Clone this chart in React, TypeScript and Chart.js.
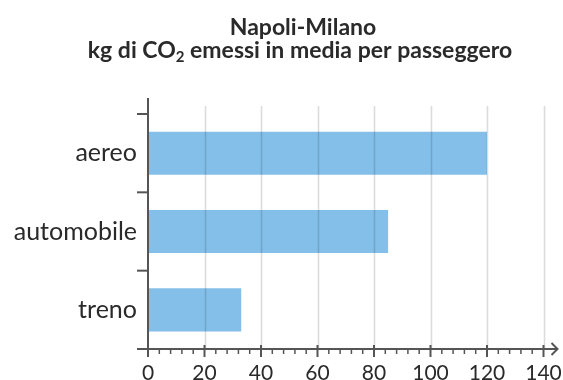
import React, { useEffect, useRef } from "react";
import { Chart, registerables } from "chart.js";

Chart.register(...registerables);

// ---- data ----
const titleLine1 = "Napoli-Milano";
const titleLine2Parts = ["kg di CO", "2", " emessi in media per passeggero"];
const categories = ["aereo", "automobile", "treno"];
const values = [120, 85, 33];
const xMin = 0;
const xMax = 140;
const xMajorStep = 20;
const xMinorStep = 4;

// ---- style ----
const FONT = "Lato, 'Open Sans', sans-serif";
const TEXT = "#2a2a2a";
const AXIS = "#555555";
const BAR = "#84bfea";

const decorPlugin = {
  id: "decor",
  afterDatasetsDraw(chart: any) {
    const { ctx, chartArea } = chart;
    const xs = chart.scales.x;
    const ys = chart.scales.y;
    const { left, right, top, bottom } = chartArea;
    ctx.save();
    // gridlines
    ctx.strokeStyle = "rgba(0,0,0,0.14)";
    ctx.lineWidth = 1.6;
    for (let v = xMin + xMajorStep; v <= xMax; v += xMajorStep) {
      const x = Math.round(xs.getPixelForValue(v)) + 0.5;
      ctx.beginPath();
      ctx.moveTo(x, top - 8);
      ctx.lineTo(x, bottom);
      ctx.stroke();
    }
    ctx.strokeStyle = AXIS;
    ctx.lineWidth = 2;
    // y axis
    ctx.beginPath();
    ctx.moveTo(left, top - 16);
    ctx.lineTo(left, bottom);
    ctx.stroke();
    // y category boundary ticks
    const n = categories.length;
    const band = (bottom - top) / n;
    for (let i = 0; i < n; i++) {
      const y = ys.getPixelForValue(i) - band / 2;
      ctx.beginPath();
      ctx.moveTo(left - 11, y);
      ctx.lineTo(left, y);
      ctx.stroke();
    }
    // x axis
    const tipX = right + 14;
    ctx.beginPath();
    ctx.moveTo(left - 11, bottom);
    ctx.lineTo(tipX, bottom);
    ctx.stroke();
    ctx.beginPath();
    ctx.moveTo(tipX - 6, bottom - 6);
    ctx.lineTo(tipX, bottom);
    ctx.lineTo(tipX - 6, bottom + 6);
    ctx.stroke();
    // major ticks
    for (let v = xMin; v <= xMax; v += xMajorStep) {
      const x = xs.getPixelForValue(v);
      ctx.beginPath();
      ctx.moveTo(x, bottom - 4);
      ctx.lineTo(x, bottom + 8);
      ctx.stroke();
    }
    // minor ticks
    ctx.lineWidth = 1.5;
    for (let v = xMin; v <= xMax; v += xMinorStep) {
      if (v % xMajorStep === 0) continue;
      const x = xs.getPixelForValue(v);
      ctx.beginPath();
      ctx.moveTo(x, bottom);
      ctx.lineTo(x, bottom + 5);
      ctx.stroke();
    }
    ctx.restore();
  },
  afterDraw(chart: any) {
    const { ctx } = chart;
    ctx.save();
    ctx.fillStyle = TEXT;
    ctx.textBaseline = "alphabetic";
    ctx.textAlign = "left";
    const big = `bold 23px ${FONT}`;
    const small = `bold 15px ${FONT}`;
    ctx.font = big;
    const w1 = ctx.measureText(titleLine1).width;
    ctx.fillText(titleLine1, 303 - w1 / 2, 35);
    const a = ctx.measureText(titleLine2Parts[0]).width;
    const c = ctx.measureText(titleLine2Parts[2]).width;
    ctx.font = small;
    const b = ctx.measureText(titleLine2Parts[1]).width;
    const total = a + b + c;
    let x = 300 - total / 2;
    ctx.font = big;
    ctx.fillText(titleLine2Parts[0], x, 58);
    x += a;
    ctx.font = small;
    ctx.fillText(titleLine2Parts[1], x, 62);
    x += b;
    ctx.font = big;
    ctx.fillText(titleLine2Parts[2], x, 58);
    ctx.restore();
  },
};

export default function App() {
  const ref = useRef<HTMLCanvasElement | null>(null);
  useEffect(() => {
    if (!ref.current) return;
    const chart = new Chart(ref.current, {
      type: "bar",
      data: {
        labels: categories,
        datasets: [
          {
            data: values,
            backgroundColor: BAR,
            borderWidth: 0,
            barPercentage: 0.55,
            categoryPercentage: 1,
          },
        ],
      },
      options: {
        indexAxis: "y",
        responsive: false,
        animation: false,
        layout: { padding: { top: 114, right: 19.5, left: 0, bottom: 0 } },
        plugins: {
          legend: { display: false },
          title: { display: false },
          tooltip: { enabled: false },
        },
        scales: {
          x: {
            type: "linear",
            min: xMin,
            max: xMax,
            grid: { display: false, drawTicks: false },
            border: { display: false },
            ticks: {
              stepSize: xMajorStep,
              padding: 12,
              color: TEXT,
              font: { family: FONT, size: 21 },
              maxRotation: 0,
            },
            afterFit(scale: any) {
              scale.height = 31;
              scale.paddingLeft = 0;
              scale.paddingRight = 0;
            },
          },
          y: {
            type: "category",
            grid: { display: false, drawTicks: false },
            border: { display: false },
            ticks: {
              padding: 11,
              color: TEXT,
              font: { family: FONT, size: 25 },
            },
            afterFit(scale: any) {
              scale.width = 148;
              scale.paddingTop = 0;
              scale.paddingBottom = 0;
            },
          },
        },
      },
      plugins: [decorPlugin],
    } as any);
    return () => chart.destroy();
  }, []);
  return (
    <div style={{ position: "fixed", left: 0, top: 0, width: 563, height: 380, background: "#fff" }}>
      <canvas ref={ref} width={563} height={380} />
    </div>
  );
}
